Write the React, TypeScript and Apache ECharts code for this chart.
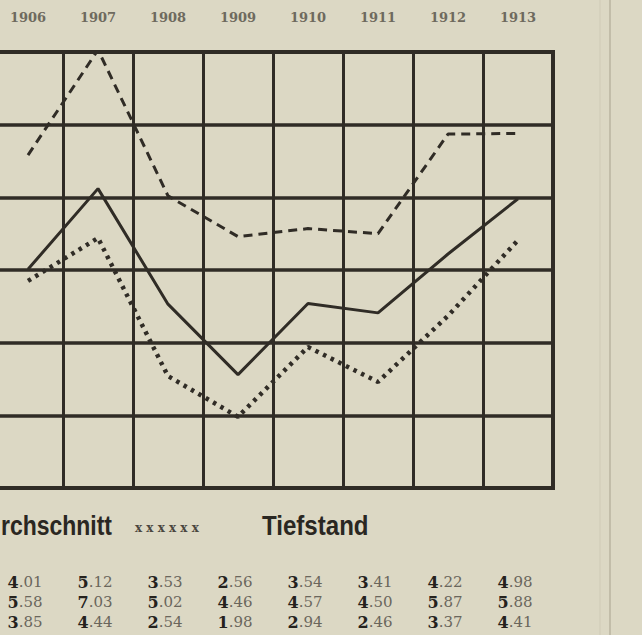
import React, { useEffect, useRef } from "react";
import * as echarts from "echarts";

const years = ["1906", "1907", "1908", "1909", "1910", "1911", "1912", "1913"];
const durchschnitt = [4.01, 5.12, 3.53, 2.56, 3.54, 3.41, 4.22, 4.98];
const hochstand = [5.58, 7.03, 5.02, 4.46, 4.57, 4.5, 5.87, 5.88];
const tiefstand = [3.85, 4.44, 2.54, 1.98, 2.94, 2.46, 3.37, 4.41];
const tableRows = [durchschnitt, hochstand, tiefstand];
const legendLabels = ["rchschnitt", "Tiefstand"];

const INK = "#302c26";
const PAPER = "#dcd8c4";
const OFFSET = 60;

export default function App() {
  const ref = useRef<HTMLDivElement>(null);
  useEffect(() => {
    if (!ref.current) return;
    const chart = echarts.init(ref.current, undefined, { renderer: "svg" });
    chart.setOption({
      animation: false,
      backgroundColor: PAPER,
      grid: {
        left: 53,
        right: 89,
        top: 52,
        bottom: 147,
        show: true,
        borderColor: INK,
        borderWidth: 4,
        backgroundColor: "transparent",
      },
      xAxis: {
        type: "category",
        position: "top",
        data: years,
        boundaryGap: true,
        axisLine: { show: false },
        axisTick: { show: false },
        axisLabel: {
          margin: 28,
          color: "#6e6a5e",
          fontFamily: "DejaVu Serif",
          fontSize: 13,
          fontWeight: "bold",
        },
        splitLine: { show: true, interval: 0, lineStyle: { color: INK, width: 3 } },
      },
      yAxis: {
        type: "value",
        min: 1,
        max: 7,
        interval: 1,
        axisLine: { show: false },
        axisTick: { show: false },
        axisLabel: { show: false },
        splitLine: { show: true, lineStyle: { color: INK, width: 3.5 } },
      },
      series: [
        {
          name: "Hochstand",
          type: "line",
          data: hochstand,
          symbol: "none",
          lineStyle: { color: INK, width: 3, type: [9, 6] },
        },
        {
          name: "Durchschnitt",
          type: "line",
          data: durchschnitt,
          symbol: "none",
          lineStyle: { color: INK, width: 3, type: "solid" },
        },
        {
          name: "Tiefstand",
          type: "line",
          data: tiefstand,
          symbol: "none",
          lineStyle: { color: INK, width: 4.5, type: [3.5, 5] },
        },
      ],
    });

    const px = (i: number) => chart.convertToPixel({ xAxisIndex: 0 }, i) as number;
    const elements: any[] = [];
    elements.push({
      type: "text",
      x: OFFSET + 1,
      y: 525,
      scaleX: 0.82,
      style: {
        text: legendLabels[0],
        font: 'bold 28px "Liberation Sans"',
        fill: "#2a2722",
        textAlign: "left",
        textVerticalAlign: "middle",
        align: "left",
        verticalAlign: "middle",
      },
    });
    elements.push({
      type: "text",
      x: OFFSET + 135,
      y: 528,
      style: {
        text: "x x x x x x",
        font: 'bold 12px "DejaVu Serif"',
        fill: "#4a463e",
        textAlign: "left",
        textVerticalAlign: "middle",
        align: "left",
        verticalAlign: "middle",
      },
    });
    elements.push({
      type: "text",
      x: OFFSET + 262,
      y: 525,
      scaleX: 0.86,
      style: {
        text: legendLabels[1],
        font: 'bold 28px "Liberation Sans"',
        fill: "#2a2722",
        textAlign: "left",
        textVerticalAlign: "middle",
        align: "left",
        verticalAlign: "middle",
      },
    });
    tableRows.forEach((row, r) => {
      row.forEach((v, i) => {
        const s = v.toFixed(2);
        const intPart = s.split(".")[0];
        const dec = "." + s.split(".")[1];
        elements.push({
          type: "text",
          x: px(i) - 3,
          y: 582 + r * 20,
          style: {
            text: `{a|${intPart}}{b|${dec}}`,
            rich: {
              a: { font: 'bold 16px "DejaVu Serif"', fill: "#25221d" },
              b: { font: '15px "DejaVu Serif"', fill: "#6a665c" },
            },
            textAlign: "center",
            textVerticalAlign: "middle",
            align: "center",
            verticalAlign: "middle",
          },
        });
      });
    });
    elements.push({
      type: "line",
      shape: { x1: 670, y1: 0, x2: 670, y2: 635 },
      style: { stroke: "#c2bda9", lineWidth: 2 },
    });
    elements.push({
      type: "line",
      shape: { x1: 660, y1: 0, x2: 660, y2: 635 },
      style: { stroke: "#cfcab6", lineWidth: 1 },
    });
    chart.setOption({ graphic: { elements } });

    return () => chart.dispose();
  }, []);

  return (
    <div
      ref={ref}
      style={{
        position: "absolute",
        left: -OFFSET,
        top: 0,
        width: 642 + OFFSET,
        height: 635,
        background: PAPER,
      }}
    />
  );
}
